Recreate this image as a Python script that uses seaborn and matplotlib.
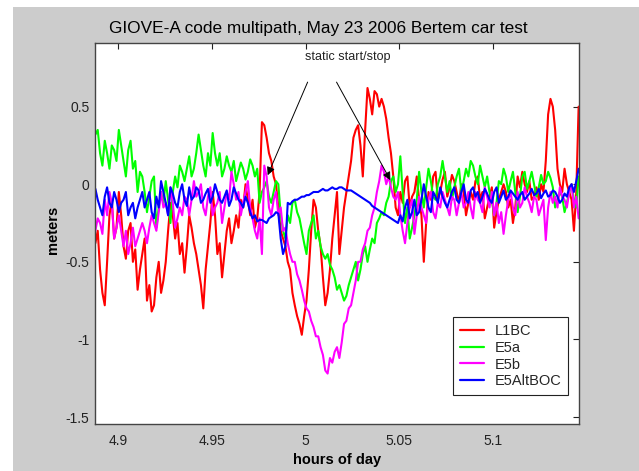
import numpy as np
import pandas as pd
import matplotlib
matplotlib.use("Agg")
import matplotlib.pyplot as plt
from matplotlib.patches import Rectangle
import seaborn as sns

# sampling of the traces (hours of day)
hour_start = 4.888
hour_step = 0.00125

l1bc = [-0.38, -0.3, -0.55, -0.7, -0.78, -0.5, -0.2, -0.1, -0.35, -0.28,
        -0.05, -0.2, -0.4, -0.48, -0.3, -0.25, -0.5, -0.42, -0.68, -0.55,
        -0.45, -0.35, -0.75, -0.65, -0.82, -0.78, -0.6, -0.5, -0.7, -0.62,
        -0.5, -0.3, -0.12, -0.2, -0.35, -0.25, -0.45, -0.38, -0.57, -0.4,
        -0.2, -0.28, -0.38, -0.45, -0.55, -0.65, -0.8, -0.55, -0.4, -0.25,
        -0.05, -0.2, -0.45, -0.38, -0.6, -0.45, -0.3, -0.22, -0.38, -0.3,
        -0.2, -0.28, -0.1, -0.15, 0.0, -0.1, -0.2, -0.1, -0.28, -0.22,
        -0.05, 0.4, 0.38, 0.3, 0.2, 0.15, 0.05, 0.0, -0.15, -0.3,
        -0.35, -0.4, -0.5, -0.55, -0.7, -0.78, -0.85, -0.9, -0.97, -0.85,
        -0.75, -0.55, -0.3, -0.1, -0.15, -0.3, -0.4, -0.6, -0.78, -0.7,
        -0.55, -0.35, -0.2, -0.05, -0.45, -0.3, -0.15, -0.05, 0.05, 0.15,
        0.3, 0.35, 0.38, 0.25, 0.05, 0.35, 0.62, 0.55, 0.45, 0.6,
        0.58, 0.5, 0.55, 0.5, 0.42, 0.3, 0.2, 0.05, -0.15, -0.2,
        -0.05, -0.12, 0.02, 0.05, -0.15, -0.08, -0.05, 0.05, -0.1, -0.2,
        -0.5, -0.25, -0.05, -0.1, 0.05, 0.08, -0.1, -0.05, 0.03, 0.08,
        -0.08, -0.02, 0.06, 0.02, -0.05, -0.12, 0.0, -0.05, -0.2, -0.12,
        -0.05, -0.1, 0.02, 0.05, -0.1, -0.05, -0.22, -0.15, -0.08, -0.02,
        -0.28, -0.18, -0.1, -0.05, 0.0, -0.05, -0.15, -0.1, -0.25, -0.15,
        0.05, -0.02, 0.08, 0.0, -0.05, 0.02, -0.1, -0.08, -0.02, -0.1,
        0.0, -0.05, 0.15, 0.45, 0.55, 0.5, 0.35, 0.1, 0.0, -0.05,
        0.1, 0.0, -0.05, -0.1, -0.3, -0.05, 0.5]

e5a = [0.32, 0.35, 0.2, 0.12, 0.28, 0.2, 0.1, 0.25, 0.22, 0.15,
       0.35, 0.25, 0.15, 0.05, 0.22, 0.28, 0.1, 0.15, -0.05, 0.08,
       0.05, -0.05, -0.18, -0.08, 0.02, 0.05, -0.28, -0.15, -0.05, -0.12,
       0.02, -0.1, -0.25, -0.05, 0.05, -0.02, 0.12, 0.08, 0.02, 0.1,
       0.18, 0.05, 0.1, 0.2, 0.32, 0.22, 0.12, 0.05, 0.2, 0.12,
       0.33, 0.2, 0.12, 0.2, 0.05, 0.1, 0.18, 0.12, 0.08, 0.15,
       0.02, 0.08, 0.14, 0.1, 0.03, 0.08, 0.16, 0.12, 0.05, 0.1,
       -0.12, -0.05, -0.02, 0.02, -0.08, -0.12, -0.05, 0.02, 0.0, -0.2,
       -0.3, -0.35, -0.2, -0.25, -0.12, -0.1, -0.18, -0.22, -0.3, -0.38,
       -0.45, -0.3, -0.25, -0.2, -0.35, -0.3, -0.4, -0.45, -0.48, -0.45,
       -0.52, -0.55, -0.6, -0.68, -0.65, -0.7, -0.75, -0.72, -0.65, -0.6,
       -0.55, -0.5, -0.62, -0.55, -0.45, -0.4, -0.5, -0.42, -0.35, -0.38,
       -0.25, -0.22, -0.18, -0.2, -0.12, -0.08, 0.02, 0.05, -0.05, 0.0,
       0.18, -0.05, -0.25, -0.15, -0.35, -0.28, -0.2, -0.1, 0.08, -0.05,
       -0.15, -0.02, 0.1, 0.02, -0.08, -0.1, 0.0, 0.05, 0.15, 0.05,
       -0.05, 0.02, -0.1, -0.02, 0.05, 0.1, -0.05, 0.02, 0.1, 0.05,
       0.15, 0.12, 0.05, 0.0, 0.12, 0.05, -0.02, 0.05, -0.05, -0.1,
       -0.2, -0.12, 0.02, 0.0, 0.1, 0.05, -0.05, 0.02, 0.08, -0.05,
       -0.18, -0.08, 0.05, 0.08, -0.03, 0.02, 0.08, 0.0, -0.08, -0.02,
       0.06, 0.0, 0.02, 0.08, 0.04, -0.02, -0.15, -0.1, -0.05, -0.08,
       -0.18, -0.12, -0.05, 0.0, -0.1, -0.15, 0.05]

e5b = [-0.3, -0.22, -0.25, -0.32, -0.1, -0.2, -0.05, -0.12, -0.35, -0.28,
       -0.2, -0.3, -0.4, -0.3, -0.45, -0.38, -0.28, -0.4, -0.35, -0.3,
       -0.25, -0.3, -0.38, -0.28, -0.2, -0.25, -0.3, -0.18, -0.05, -0.15,
       -0.12, -0.2, -0.02, -0.12, -0.28, -0.22, -0.15, -0.2, -0.08, -0.1,
       -0.2, -0.1, 0.02, -0.08, -0.05, 0.0, -0.15, -0.2, -0.08, -0.02,
       -0.2, -0.15, -0.12, -0.05, -0.25, -0.15, -0.05, -0.1, 0.08, 0.0,
       -0.1, -0.05, -0.2, -0.12, -0.05, 0.02, -0.15, -0.22, -0.3, -0.35,
       -0.22, -0.45, 0.12, 0.05, -0.15, -0.2, -0.1, -0.05, -0.2, -0.15,
       -0.3, -0.28, -0.38, -0.45, -0.5, -0.5, -0.58, -0.62, -0.68, -0.75,
       -0.8, -0.82, -0.88, -0.92, -0.98, -0.98, -1.05, -1.1, -1.2, -1.22,
       -1.12, -1.15, -1.08, -1.05, -1.12, -1.02, -0.9, -0.88, -0.8, -0.78,
       -0.7, -0.62, -0.5, -0.5, -0.42, -0.38, -0.3, -0.28, -0.2, -0.15,
       -0.05, 0.02, 0.12, 0.08, 0.0, 0.05, -0.02, -0.08, -0.1, -0.05,
       -0.2, -0.3, -0.38, -0.25, -0.15, -0.1, -0.32, -0.2, -0.08, -0.15,
       -0.2, -0.25, -0.1, -0.05, -0.18, -0.22, -0.12, -0.15, -0.05, -0.1,
       -0.15, -0.2, -0.08, -0.1, -0.2, -0.12, -0.05, -0.15, -0.12, -0.05,
       -0.15, -0.22, -0.05, -0.1, -0.12, -0.18, -0.02, -0.08, -0.15, -0.05,
       -0.2, -0.12, -0.25, -0.18, -0.32, -0.2, -0.1, -0.05, -0.15, -0.2,
       -0.05, -0.15, -0.12, -0.02, -0.08, -0.12, -0.18, -0.08, -0.1, -0.2,
       -0.15, -0.1, -0.36, -0.15, -0.05, -0.12, -0.08, -0.15, -0.02, -0.08,
       -0.1, -0.15, -0.05, 0.0, -0.15, -0.08, -0.22]

e5altboc = [-0.03, -0.1, -0.15, -0.2, -0.08, -0.02, -0.12, -0.15, -0.05, -0.1,
            -0.18, -0.12, -0.1, -0.05, -0.2, -0.15, -0.12, -0.22, -0.15, -0.1,
            -0.05, -0.15, -0.1, -0.05, -0.18, -0.22, -0.08, -0.15, 0.02, -0.05,
            -0.12, -0.2, -0.02, -0.06, -0.12, -0.15, -0.05, 0.0, -0.1, -0.14,
            -0.02, -0.1, -0.08, -0.02, -0.04, -0.12, -0.1, -0.06, -0.03, -0.12,
            -0.08, 0.0, -0.05, -0.1, -0.12, -0.08, -0.04, -0.14, -0.1, -0.02,
            -0.06, -0.1, -0.12, -0.15, -0.08, -0.12, -0.18, -0.22, -0.2, -0.24,
            -0.23, -0.23, -0.24, -0.25, -0.22, -0.21, -0.2, -0.18, -0.19, -0.35,
            -0.45, -0.4, -0.12, -0.13, -0.11, -0.1, -0.1, -0.09, -0.08, -0.08,
            -0.07, -0.07, -0.06, -0.05, -0.05, -0.05, -0.04, -0.03, -0.04, -0.04,
            -0.03, -0.02, -0.03, -0.03, -0.02, -0.02, -0.03, -0.04, -0.04, -0.04,
            -0.05, -0.06, -0.07, -0.08, -0.09, -0.1, -0.11, -0.12, -0.14, -0.15,
            -0.16, -0.17, -0.18, -0.19, -0.2, -0.21, -0.22, -0.23, -0.24, -0.25,
            -0.2, -0.24, -0.15, -0.1, -0.22, -0.18, -0.1, -0.2, -0.18, -0.1,
            0.0, -0.08, -0.15, -0.18, -0.05, -0.08, -0.12, -0.02, -0.08, -0.12,
            -0.15, -0.1, -0.05, -0.02, -0.1, -0.12, -0.05, 0.0, -0.1, -0.12,
            -0.04, -0.02, -0.08, -0.05, -0.12, -0.08, -0.03, -0.06, -0.1, -0.12,
            -0.05, -0.02, -0.12, -0.08, -0.04, -0.1, -0.08, -0.04, -0.06, -0.08,
            -0.1, -0.07, -0.05, -0.1, -0.08, -0.06, -0.03, -0.07, -0.06, -0.03,
            -0.09, -0.06, -0.04, -0.08, -0.07, -0.04, -0.05, -0.08, -0.12, -0.1,
            -0.06, -0.08, -0.02, 0.0, -0.05, 0.02, 0.1]

signals = ["L1BC", "E5a", "E5b", "E5AltBOC"]
colors = ["#ff0000", "#00ff00", "#ff00ff", "#0000ff"]

frames = []
for name, vals in zip(signals, [l1bc, e5a, e5b, e5altboc]):
    hours = hour_start + hour_step * np.arange(len(vals))
    frames.append(pd.DataFrame({"hour": hours, "meters": vals, "signal": name}))
df = pd.concat(frames, ignore_index=True)

sns.set_theme(style="white")
plt.rcParams["font.family"] = ["Liberation Sans", "DejaVu Sans"]

fig = plt.figure(figsize=(6.39, 4.71), dpi=100, facecolor="white")
# matlab-style grey figure area
fig.patches.append(Rectangle((13 / 639, 0), 1, (471 - 7) / 471, transform=fig.transFigure,
                             facecolor="#cccccc", edgecolor="none", zorder=-10))
ax = fig.add_axes([95 / 639, (471 - 424) / 471, 484 / 639, 381 / 471])
ax.set_facecolor("white")

sns.lineplot(data=df, x="hour", y="meters", hue="signal", hue_order=signals,
             palette=colors, linewidth=1.5, ax=ax, legend=False)

ax.set_xlim(4.8878, 5.1457)
ax.set_ylim(-1.545, 0.91)
ax.set_xticks([4.9, 4.95, 5.0, 5.05, 5.1])
ax.set_xticklabels(["4.9", "4.95", "5", "5.05", "5.1"])
ax.set_yticks([-1.5, -1, -0.5, 0, 0.5])
ax.set_yticklabels(["-1.5", "-1", "-0.5", "0", "0.5"])
ax.tick_params(direction="in", length=4, width=0.8, top=True, right=True,
               labelsize=10, colors="#222222")
ax.tick_params(axis="x", pad=7)
ax.tick_params(axis="y", pad=4)
for sp in ax.spines.values():
    sp.set_color("#444444")
    sp.set_linewidth(1.0)

ax.set_xlabel("hours of day", fontsize=10.5, fontweight="bold", color="black")
ax.set_ylabel("meters", fontsize=10.5, fontweight="bold", color="black")
ax.xaxis.set_label_coords(0.5, -0.095)
ax.xaxis.label.set_va("center")
ax.yaxis.set_label_coords(-0.087, 0.51)
ax.yaxis.label.set_va("center")

fig.text(318 / 639, 1 - 29 / 471, "GIOVE-A code multipath, May 23 2006 Bertem car test",
         ha="center", va="center", fontsize=12.4, color="black")

ax.text(5.0224, 0.82, "static start/stop", ha="center", va="center", fontsize=9, color="#222222")
arrow = dict(arrowstyle="-|>", color="black", lw=0.7, mutation_scale=12, shrinkA=0, shrinkB=0)
ax.annotate("", xy=(4.9798, 0.058), xytext=(5.0011, 0.658), arrowprops=arrow)
ax.annotate("", xy=(5.0452, 0.026), xytext=(5.0165, 0.658), arrowprops=arrow)

handles = [plt.Line2D([], [], color=c, lw=1.6) for c in colors]
leg = ax.legend(handles, signals, loc="lower right", bbox_to_anchor=(0.977, 0.076),
                borderaxespad=0, fontsize=10.5, frameon=True, fancybox=False,
                framealpha=1, edgecolor="#222222", labelspacing=0.2,
                handlelength=1.7, handletextpad=0.7, borderpad=0.45)
leg.get_frame().set_linewidth(0.8)

fig.savefig("out.png", dpi=100, facecolor=fig.get_facecolor())
